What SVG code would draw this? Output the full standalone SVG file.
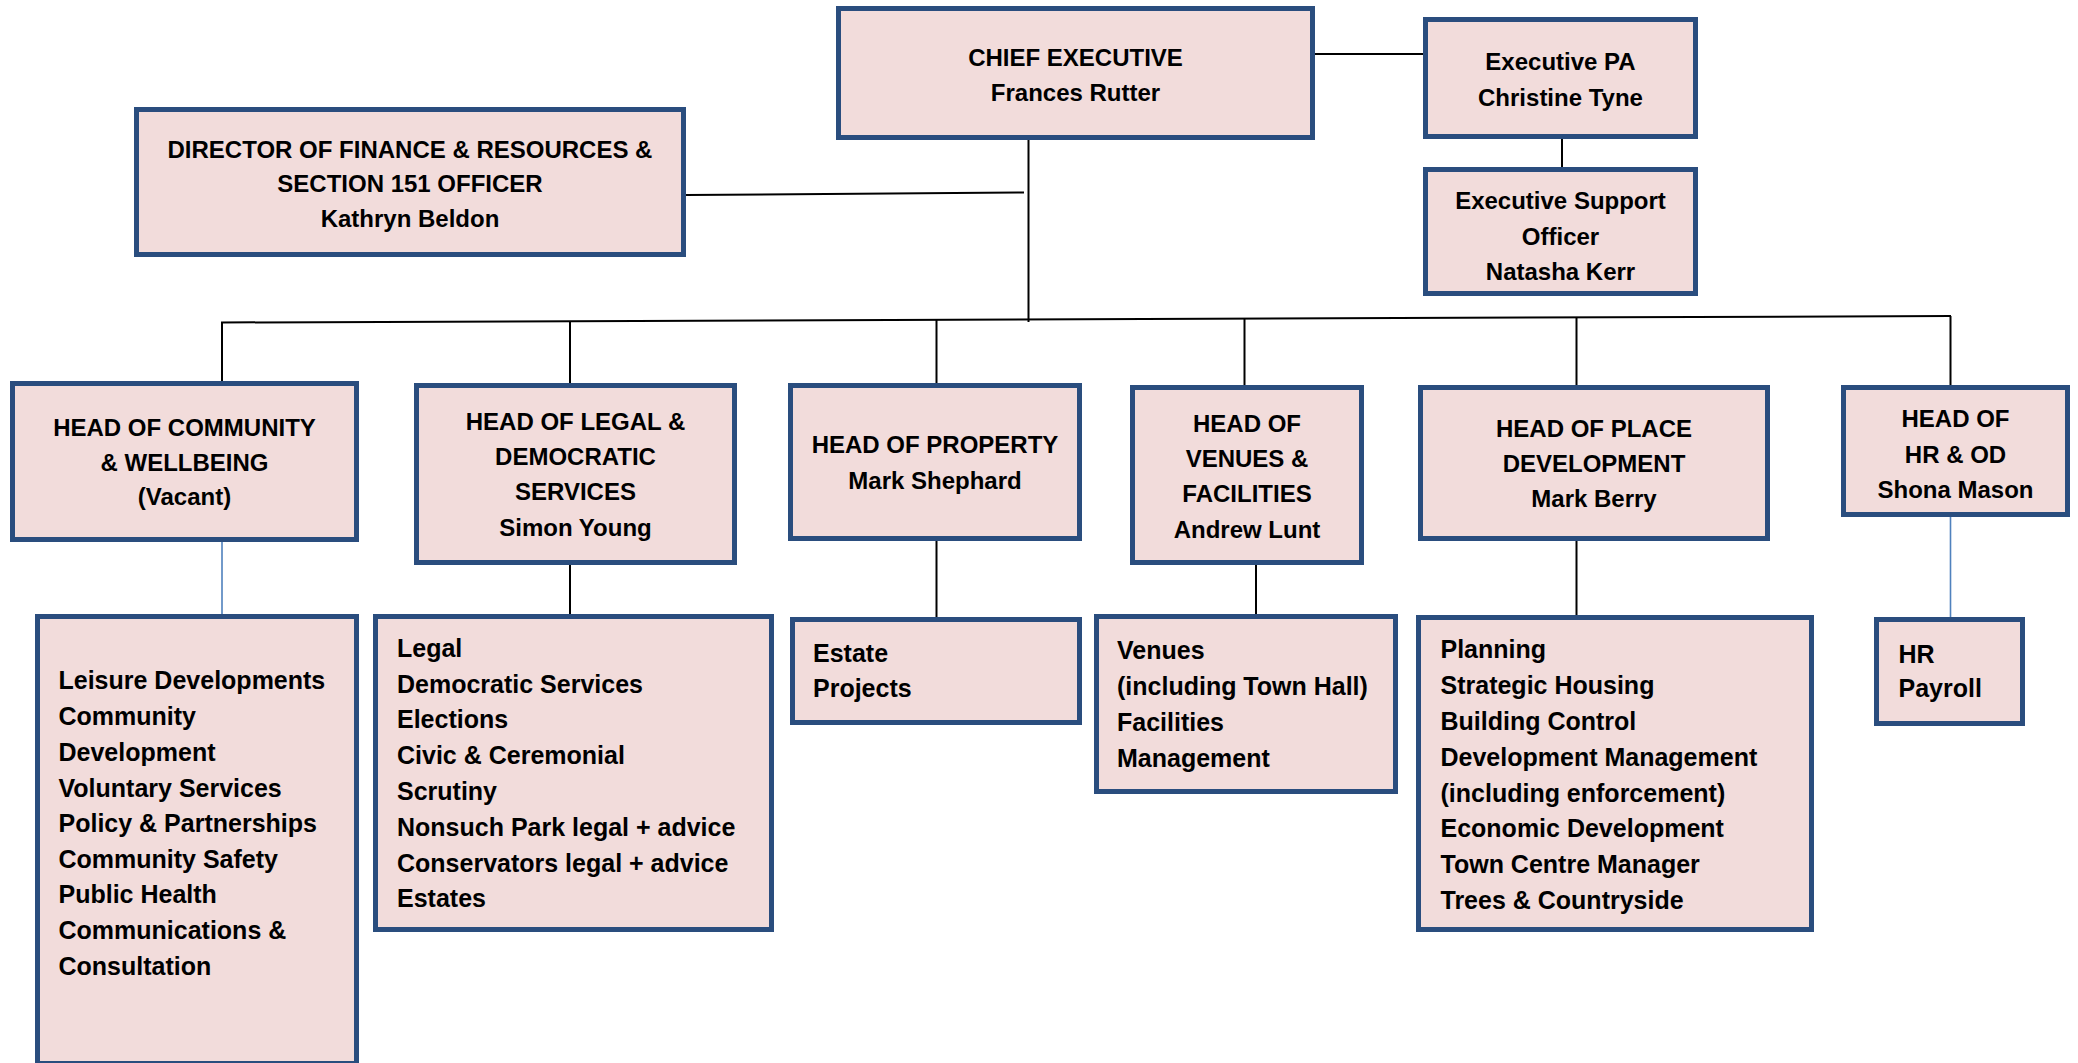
<svg xmlns="http://www.w3.org/2000/svg" width="2078" height="1063" viewBox="0 0 2078 1063">
<style>
.box{fill:#f2dcdb;stroke:#2a4d7e;stroke-width:5}
.t{font-family:"Liberation Sans",Arial,sans-serif;font-weight:bold;font-size:24px;fill:#000;text-anchor:middle}
.l{font-family:"Liberation Sans",Arial,sans-serif;font-weight:bold;font-size:25px;fill:#000}
.c{stroke:#000;stroke-width:2;fill:none}
.cb{stroke:#4f81bd;stroke-width:1.6;fill:none}
</style>
<rect width="2078" height="1063" fill="#fff"/>
<g id="connectors">
<path class="c" d="M1315,54 H1423"/>
<path class="c" d="M1562,139 V167"/>
<path class="c" d="M1028.5,140 V322"/>
<path class="c" d="M686,195 L1024,192.5"/>
<path class="c" d="M221,322.5 L1951,316"/>
<path class="c" d="M222,322.3 V381"/>
<path class="c" d="M570,321.2 V383"/>
<path class="c" d="M936.5,319.8 V383"/>
<path class="c" d="M1244.5,318.7 V385"/>
<path class="c" d="M1576.5,317.4 V385"/>
<path class="c" d="M1950.5,316 V385"/>
<path class="cb" d="M222,542 V614"/>
<path class="c" d="M570,565 V614"/>
<path class="c" d="M936.5,541 V617"/>
<path class="c" d="M1256,565 V614"/>
<path class="c" d="M1576.5,541 V615"/>
<path class="cb" d="M1950.5,517 V617"/>
</g>
<g id="ceo"><rect class="box" x="838.5" y="8.5" width="474" height="129"/>
<text class="t" x="1075.5" y="66">CHIEF EXECUTIVE</text><text class="t" x="1075.5" y="100.5">Frances Rutter</text></g>
<g id="pa"><rect class="box" x="1425.5" y="19.5" width="270" height="117"/>
<text class="t" x="1560.5" y="70">Executive PA</text><text class="t" x="1560.5" y="106">Christine Tyne</text></g>
<g id="eso"><rect class="box" x="1425.5" y="169.5" width="270" height="124"/>
<text class="t" x="1560.5" y="209">Executive Support</text><text class="t" x="1560.5" y="245">Officer</text><text class="t" x="1560.5" y="280">Natasha Kerr</text></g>
<g id="director"><rect class="box" x="136.5" y="109.5" width="547" height="145"/>
<text class="t" x="410" y="158">DIRECTOR OF FINANCE &amp; RESOURCES &amp;</text><text class="t" x="410" y="192">SECTION 151 OFFICER</text><text class="t" x="410" y="226.5">Kathryn Beldon</text></g>
<g id="head-community"><rect class="box" x="12.5" y="383.5" width="344" height="156"/>
<text class="t" x="184.5" y="435.5">HEAD OF COMMUNITY</text><text class="t" x="184.5" y="470.5">&amp; WELLBEING</text><text class="t" x="184.5" y="505">(Vacant)</text></g>
<g id="head-legal"><rect class="box" x="416.5" y="385.5" width="318" height="177"/>
<text class="t" x="575.5" y="430">HEAD OF LEGAL &amp;</text><text class="t" x="575.5" y="465">DEMOCRATIC</text><text class="t" x="575.5" y="500">SERVICES</text><text class="t" x="575.5" y="536">Simon Young</text></g>
<g id="head-property"><rect class="box" x="790.5" y="385.5" width="289" height="153"/>
<text class="t" x="935" y="453">HEAD OF PROPERTY</text><text class="t" x="935" y="489">Mark Shephard</text></g>
<g id="head-venues"><rect class="box" x="1132.5" y="387.5" width="229" height="175"/>
<text class="t" x="1247" y="431.5">HEAD OF</text><text class="t" x="1247" y="467">VENUES &amp;</text><text class="t" x="1247" y="502">FACILITIES</text><text class="t" x="1247" y="538">Andrew Lunt</text></g>
<g id="head-place"><rect class="box" x="1420.5" y="387.5" width="347" height="151"/>
<text class="t" x="1594" y="436.5">HEAD OF PLACE</text><text class="t" x="1594" y="472">DEVELOPMENT</text><text class="t" x="1594" y="507">Mark Berry</text></g>
<g id="head-hr"><rect class="box" x="1843.5" y="387.5" width="224" height="127"/>
<text class="t" x="1955.5" y="427">HEAD OF</text><text class="t" x="1955.5" y="462.5">HR &amp; OD</text><text class="t" x="1955.5" y="498">Shona Mason</text></g>
<g id="list-community"><rect class="box" x="37.5" y="616.5" width="319" height="447"/>
<text class="l" x="58.5" y="689">Leisure Developments</text><text class="l" x="58.5" y="725">Community</text><text class="l" x="58.5" y="760.5">Development</text><text class="l" x="58.5" y="796.5">Voluntary Services</text><text class="l" x="58.5" y="832">Policy &amp; Partnerships</text><text class="l" x="58.5" y="867.5">Community Safety</text><text class="l" x="58.5" y="903">Public Health</text><text class="l" x="58.5" y="939">Communications &amp;</text><text class="l" x="58.5" y="975">Consultation</text></g>
<g id="list-legal"><rect class="box" x="375.5" y="616.5" width="396" height="313"/>
<text class="l" x="397" y="656.5">Legal</text><text class="l" x="397" y="692.5">Democratic Services</text><text class="l" x="397" y="728">Elections</text><text class="l" x="397" y="764">Civic &amp; Ceremonial</text><text class="l" x="397" y="800">Scrutiny</text><text class="l" x="397" y="836">Nonsuch Park legal + advice</text><text class="l" x="397" y="871.5">Conservators legal + advice</text><text class="l" x="397" y="907">Estates</text></g>
<g id="list-property"><rect class="box" x="792.5" y="619.5" width="287" height="103"/>
<text class="l" x="813" y="661.5">Estate</text><text class="l" x="813" y="697">Projects</text></g>
<g id="list-venues"><rect class="box" x="1096.5" y="616.5" width="299" height="175"/>
<text class="l" x="1117" y="659">Venues</text><text class="l" x="1117" y="695">(including Town Hall)</text><text class="l" x="1117" y="730.5">Facilities</text><text class="l" x="1117" y="766.5">Management</text></g>
<g id="list-place"><rect class="box" x="1418.5" y="617.5" width="393" height="312"/>
<text class="l" x="1440.5" y="658">Planning</text><text class="l" x="1440.5" y="694">Strategic Housing</text><text class="l" x="1440.5" y="730">Building Control</text><text class="l" x="1440.5" y="765.5">Development Management</text><text class="l" x="1440.5" y="801.5">(including enforcement)</text><text class="l" x="1440.5" y="837">Economic Development</text><text class="l" x="1440.5" y="873">Town Centre Manager</text><text class="l" x="1440.5" y="909">Trees &amp; Countryside</text></g>
<g id="list-hr"><rect class="box" x="1876.5" y="619.5" width="146" height="104"/>
<text class="l" x="1898.5" y="662.5">HR</text><text class="l" x="1898.5" y="697">Payroll</text></g>
</svg>
